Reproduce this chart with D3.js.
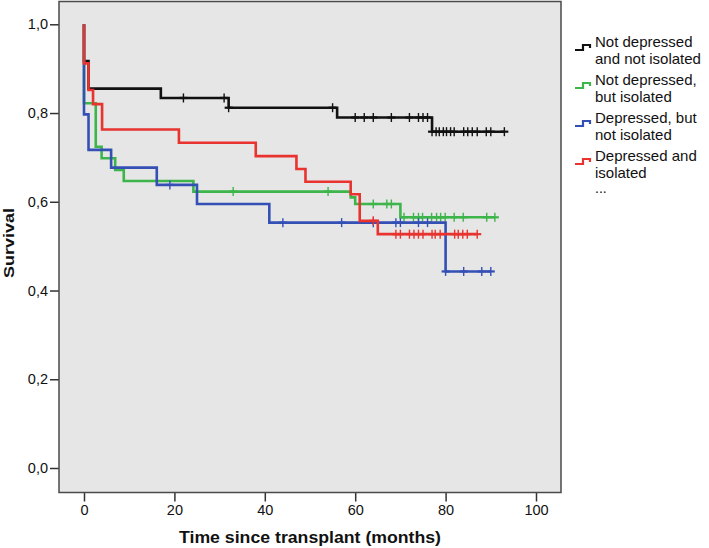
<!DOCTYPE html>
<html>
<head>
<meta charset="utf-8">
<script src="https://cdn.jsdelivr.net/npm/d3@7"></script>
<style>
  html, body { margin: 0; padding: 0; background: #fff; }
  svg { display: block; }
  text { font-family: "Liberation Sans", Arial, Helvetica, sans-serif; fill: #111; }
</style>
</head>
<body>
<svg id="chart" width="709" height="548"></svg>
<script>
// ---- Data ----
const xTicks = [0, 20, 40, 60, 80, 100];
const yTicks = [0, 0.2, 0.4, 0.6, 0.8, 1.0];
const xTitle = "Time since transplant (months)";
const yTitle = "Survival";

// Not depressed and not isolated
const blackTimes  = [0, 0, 1, 17, 32, 56, 77];
const blackSurv   = [1, 0.917, 0.855, 0.834, 0.812, 0.790, 0.758];
const blackCensor = [22, 31, 32, 55, 60, 62, 64, 68, 72, 74, 75, 76, 77, 77.9, 78.6, 79.5, 80.2, 81.1, 81.9, 84, 84.9, 85.9, 87, 89, 90, 93];

// Not depressed, but isolated
const greenTimes  = [0, 0, 2.6, 3.9, 6.9, 8.8, 24.2, 59, 60, 70];
const greenSurv   = [1, 0.822, 0.724, 0.698, 0.672, 0.647, 0.623, 0.610, 0.595, 0.565];
const greenCensor = [33, 54, 64, 67, 68, 70.8, 72.9, 74, 74.9, 76.9, 78, 78.9, 79.9, 81.9, 83.9, 89.1, 90.9];

// Depressed, but not isolated
const blueTimes  = [0, 0, 1, 6, 16.1, 25, 41, 80];
const blueSurv   = [1, 0.797, 0.717, 0.677, 0.638, 0.595, 0.553, 0.443];
const blueCensor = [19, 44, 57, 64, 69, 70, 74, 76, 80, 84, 88, 90];

// Depressed and isolated
const redTimes  = [0, 0, 1, 2, 4, 21, 38, 47, 49, 59, 61, 65];
const redSurv   = [1, 0.912, 0.852, 0.820, 0.763, 0.733, 0.703, 0.674, 0.645, 0.617, 0.557, 0.527];
const redCensor = [64, 69, 70, 72, 73, 74, 75, 77, 77.7, 78.8, 82, 82.8, 83.8, 84.8, 87];

const legendLabels = [
  ["Not depressed", "and not isolated"],
  ["Not depressed,", "but isolated"],
  ["Depressed, but", "not isolated"],
  ["Depressed and", "isolated"]
];
const legendExtra = "...";
const seriesColors = ["#111111", "#3db54a", "#3550b5", "#e8332f"];

// ---- Build series ----
const series = [
  {times: blackTimes, surv: blackSurv, censor: blackCensor},
  {times: greenTimes, surv: greenSurv, censor: greenCensor},
  {times: blueTimes,  surv: blueSurv,  censor: blueCensor},
  {times: redTimes,   surv: redSurv,   censor: redCensor}
].map((s, i) => ({...s, color: seriesColors[i], label: legendLabels[i]}));

function survAt(s, t) {
  let v = s.surv[0];
  for (let k = 0; k < s.times.length; k++) if (s.times[k] <= t) v = s.surv[k];
  return v;
}

// ---- Layout ----
const svg = d3.select("#chart");
const frame = {x0: 59, y0: 1.5, x1: 561, y1: 492.5};
const x = d3.scaleLinear().domain([0, 100]).range([84, 536]);
const y = d3.scaleLinear().domain([0, 1]).range([468, 24.3]);

svg.append("rect")
  .attr("x", frame.x0).attr("y", frame.y0)
  .attr("width", frame.x1 - frame.x0).attr("height", frame.y1 - frame.y0)
  .attr("fill", "#e6e6e6");

// Axes
const fmt = d => d3.format(".1f")(d).replace(".", ",");
const yAxis = svg.append("g").attr("transform", `translate(${frame.x0},0)`)
  .call(d3.axisLeft(y).tickValues(yTicks).tickFormat(fmt).tickSize(9).tickPadding(2));
const xAxis = svg.append("g").attr("transform", `translate(0,${frame.y1})`)
  .call(d3.axisBottom(x).tickValues(xTicks).tickFormat(d3.format("d")).tickSize(9).tickPadding(3));
[xAxis, yAxis].forEach(g => {
  g.select(".domain").remove();
  g.selectAll(".tick line").attr("stroke", "#333").attr("stroke-width", 1.5);
  g.selectAll(".tick text").attr("fill", "#111")
    .style("font-size", "14.5px").style("font-family", '"Liberation Sans", Arial, sans-serif');
});

// Frame
svg.append("rect")
  .attr("x", frame.x0).attr("y", frame.y0)
  .attr("width", frame.x1 - frame.x0).attr("height", frame.y1 - frame.y0)
  .attr("fill", "none").attr("stroke", "#4a4a4a").attr("stroke-width", 1.5);

// Curves
const line = d3.line().x(d => x(d[0])).y(d => y(d[1])).curve(d3.curveStepAfter);
series.forEach(s => {
  const pts = s.times.map((t, k) => [t, s.surv[k]]);
  const end = d3.max([d3.max(s.censor), s.times[s.times.length - 1]]);
  pts.push([end, s.surv[s.surv.length - 1]]);
  const g = svg.append("g");
  g.append("path").attr("d", line(pts))
    .attr("fill", "none").attr("stroke", s.color).attr("stroke-width", 2.6)
    .attr("stroke-linejoin", "miter");
  const cs = g.selectAll("g.c").data(s.censor).join("g")
    .attr("transform", c => `translate(${x(c)},${y(survAt(s, c))})`);
  cs.append("line").attr("x1", 0).attr("x2", 0).attr("y1", -4.5).attr("y2", 4.5)
    .attr("stroke", s.color).attr("stroke-width", 1.4);
  cs.append("line").attr("x1", -4).attr("x2", 4).attr("y1", 0).attr("y2", 0)
    .attr("stroke", s.color).attr("stroke-width", 2.2);
});

// Axis titles
svg.append("text")
  .attr("x", (frame.x0 + frame.x1) / 2).attr("y", 543)
  .attr("text-anchor", "middle")
  .attr("textLength", 262).attr("lengthAdjust", "spacingAndGlyphs")
  .style("font-weight", "bold").style("font-size", "16px")
  .text(xTitle);
svg.append("text")
  .attr("transform", "translate(13.5,243) rotate(-90)")
  .attr("text-anchor", "middle")
  .attr("textLength", 70).attr("lengthAdjust", "spacingAndGlyphs")
  .style("font-weight", "bold").style("font-size", "15px")
  .text(yTitle);

// Legend
const legend = svg.append("g");
series.forEach((s, i) => {
  const base = 47 + i * 38;
  legend.append("path")
    .attr("d", `M575,${base + 3}H583V${base - 2}H590V${base + 1}`)
    .attr("fill", "none").attr("stroke", s.color).attr("stroke-width", 2.2);
  s.label.forEach((ln, j) => {
    legend.append("text")
      .attr("x", 595).attr("y", base + j * 16.5)
      .style("font-size", "15px")
      .text(ln);
  });
});
legend.append("text").attr("x", 595).attr("y", 193).style("font-size", "14px").text(legendExtra);
</script>
</body>
</html>
